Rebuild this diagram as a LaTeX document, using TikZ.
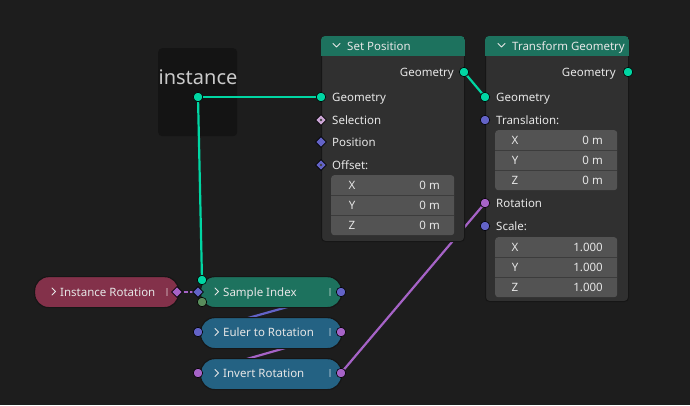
\documentclass[tikz,border=0pt]{standalone}
\usepackage{fontspec}
\setmainfont{Noto Sans}
\usepackage{xcolor}
\usepackage{tikz}
\usetikzlibrary{positioning,shapes.geometric}
\definecolor{Canvas}{HTML}{1D1D1D}
\definecolor{FrameBg}{HTML}{141414}
\definecolor{Body}{HTML}{303030}
\definecolor{Edge}{HTML}{161616}
\definecolor{Field}{HTML}{535353}
\definecolor{FieldLine}{HTML}{3C3C3C}
\definecolor{GeoHead}{HTML}{1D725E}
\definecolor{ConvHead}{HTML}{246283}
\definecolor{InHead}{HTML}{83314A}
\definecolor{GeoSock}{HTML}{00D6A3}
\definecolor{VecSock}{HTML}{6363C7}
\definecolor{RotSock}{HTML}{A663C7}
\definecolor{BoolSock}{HTML}{CCA6D6}
\definecolor{IntSock}{HTML}{598C5C}
\definecolor{Label}{HTML}{E6E6E6}
\pgfdeclarelayer{bg}
\pgfdeclarelayer{wires}
\pgfsetlayers{bg,wires,main}
\newcommand{\headbar}[2]{%
  \begin{scope}
    \clip[rounded corners=4pt] (#1.north west) rectangle (#1.south east);
    \fill[#2] (#1.north west) rectangle ([yshift=-20pt]#1.north east);
  \end{scope}}

\begin{document}
\begin{tikzpicture}[
  x=1pt,y=-1pt,
  body/.style={draw=Edge,fill=Body,rounded corners=4pt,line width=1pt,anchor=north west,inner sep=0pt},
  pill/.style={draw=Edge,line width=1.2pt,rounded corners=14pt,minimum height=31pt,anchor=north west,inner sep=0pt},
  vbox/.style={fill=Field,rounded corners=3pt,anchor=north west,inner sep=0pt},
  lbl/.style={text=Label,font=\fontsize{11.5}{13}\selectfont,inner sep=0pt,text height=8.3pt,text depth=0pt},
  sock/.style={circle,draw=black,line width=0.6pt,minimum size=9.5pt,inner sep=0pt},
  dia/.style={diamond,draw=black,line width=0.6pt,minimum size=11pt,inner sep=0pt},
  pip/.style={circle,fill=black!75,minimum size=2.6pt,inner sep=0pt},
  chev/.style={draw=Label,line width=0.9pt,line cap=round,line join=round},
  handle/.style={fill=white,fill opacity=0.28,minimum width=2.2pt,minimum height=8pt,inner sep=0pt},
  sep/.style={FieldLine,line width=1pt},
  wire/.style={line width=2.2pt}]
\useasboundingbox (0,0) rectangle (690,405);
\begin{pgfonlayer}{bg}
\fill[Canvas] (0,0) rectangle (690,405);
\node[fill=FrameBg,rounded corners=4pt,minimum width=79pt,minimum height=88pt,anchor=north west,inner sep=0pt] (frame) at (158,48) {};
\end{pgfonlayer}
\node[text=Label!88!black,font=\fontsize{20}{24}\selectfont,inner sep=0pt] (frameT) at (198,77) {instance};
\node[sock,fill=GeoSock] (reroute) at (198,97) {};

% Set Position
\node[body,minimum width=143pt,minimum height=205pt] (setpos) at (321,36) {};
\headbar{setpos}{GeoHead}
\draw[chev] (333,43.5) -- (336.5,47) -- (340,43.5);
\node[lbl,anchor=west] (setposT) at (347,46) {Set Position};
\node[lbl,anchor=east] (spGeoOutL) at (454,72) {Geometry};
\node[sock,fill=GeoSock] (spGeoOut) at (464,72) {};
\node[lbl,anchor=west] (spGeoInL) at (332,97) {Geometry};
\node[sock,fill=GeoSock] (spGeoIn) at (321,97) {};
\node[lbl,anchor=west] (spSelL) at (332,120) {Selection};
\node[dia,fill=BoolSock] (spSel) at (321,120) {};
\node[pip] at (spSel) {};
\node[lbl,anchor=west] (spPosL) at (332,142) {Position};
\node[dia,fill=VecSock] (spPos) at (321,142) {};
\node[lbl,anchor=west] (spOffL) at (332,165) {Offset:};
\node[dia,fill=VecSock] (spOffS) at (321,165) {};
\node[pip] at (spOffS) {};
\node[vbox,minimum width=123pt,minimum height=60pt] (spOff) at (331,175) {};
\foreach \s in {20,40} \draw[sep] ([yshift=-\s pt]spOff.north west) -- ([yshift=-\s pt]spOff.north east);
\foreach \c [count=\i] in {X,Y,Z} {
  \node[lbl] (spOff\c) at (352,165+20*\i) {\c};
  \node[lbl,anchor=east] (spOffV\c) at (440,165+20*\i) {0 m};
}

% Transform Geometry
\node[body,minimum width=143pt,minimum height=265pt] (transform) at (485,36) {};
\headbar{transform}{GeoHead}
\draw[chev] (498,43.5) -- (501.5,47) -- (505,43.5);
\node[lbl,anchor=west] (transformT) at (512,46) {Transform Geometry};
\node[lbl,anchor=east] (tgGeoOutL) at (616,72) {Geometry};
\node[sock,fill=GeoSock] (tgGeoOut) at (628,72) {};
\node[lbl,anchor=west] (tgGeoInL) at (496,97) {Geometry};
\node[sock,fill=GeoSock] (tgGeoIn) at (485,97) {};
\node[lbl,anchor=west] (tgTransL) at (496,120) {Translation:};
\node[sock,fill=VecSock] (tgTrans) at (485,120) {};
\node[vbox,minimum width=122pt,minimum height=60pt] (tgT) at (495,130) {};
\node[lbl,anchor=west] (tgRotL) at (496,203) {Rotation};
\node[sock,fill=RotSock] (tgRot) at (485,203) {};
\node[lbl,anchor=west] (tgScaleL) at (496,226) {Scale:};
\node[sock,fill=VecSock] (tgScale) at (485,226) {};
\node[vbox,minimum width=122pt,minimum height=60pt] (tgS) at (495,237) {};
\foreach \s in {20,40} {
  \draw[sep] ([yshift=-\s pt]tgT.north west) -- ([yshift=-\s pt]tgT.north east);
  \draw[sep] ([yshift=-\s pt]tgS.north west) -- ([yshift=-\s pt]tgS.north east);
}
\foreach \c [count=\i] in {X,Y,Z} {
  \node[lbl] (tgT\c) at (515,120+20*\i) {\c};
  \node[lbl,anchor=east] (tgTV\c) at (603,120+20*\i) {0 m};
  \node[lbl] (tgS\c) at (515,227+20*\i) {\c};
  \node[lbl,anchor=east] (tgSV\c) at (603,227+20*\i) {1.000};
}

% collapsed nodes
\node[pill,fill=InHead,minimum width=144pt] (instrot) at (34,276) {};
\draw[chev] (52,288) -- (55.5,291.5) -- (52,295);
\node[lbl,anchor=west] (instrotT) at (60,292) {Instance Rotation};
\node[handle] (instrotH) at (167,292) {};
\node[dia,fill=RotSock] (instOut) at (177,292) {};

\node[pill,fill=GeoHead,minimum width=141pt] (sample) at (200,276) {};
\draw[chev] (215,288) -- (218.5,291.5) -- (215,295);
\node[lbl,anchor=west] (sampleT) at (223,292) {Sample Index};
\node[handle] (sampleH) at (330,292) {};
\node[sock,fill=GeoSock] (siGeo) at (202,280) {};
\node[sock,fill=IntSock] (siIdx) at (202,302) {};
\node[dia,fill=VecSock] (siVal) at (198,292) {};
\node[sock,fill=VecSock] (siOut) at (341,292) {};

\node[pill,fill=ConvHead,minimum width=141pt] (euler) at (200,317) {};
\draw[chev] (215,328.5) -- (218.5,332) -- (215,335.5);
\node[lbl,anchor=west] (eulerT) at (223,332) {Euler to Rotation};
\node[handle] (eulerH) at (330,332) {};
\node[sock,fill=VecSock] (erIn) at (198,332) {};
\node[sock,fill=RotSock] (erOut) at (341,332) {};

\node[pill,fill=ConvHead,minimum width=141pt] (invert) at (200,358) {};
\draw[chev] (215,369.5) -- (218.5,373) -- (215,376.5);
\node[lbl,anchor=west] (invertT) at (223,373) {Invert Rotation};
\node[handle] (invertH) at (330,373) {};
\node[sock,fill=RotSock] (irIn) at (198,373) {};
\node[sock,fill=RotSock] (irOut) at (341,373) {};

\begin{pgfonlayer}{wires}
\draw[wire,GeoSock] (reroute.center) -- (spGeoIn.center);
\draw[wire,GeoSock] (reroute.center) -- (siGeo.center);
\draw[wire,GeoSock] (spGeoOut.center) -- (tgGeoIn.center);
\draw[wire,RotSock] (irOut.center) -- (tgRot.center);
\draw[wire,VecSock] (siOut.center) -- (erIn.center);
\draw[wire,RotSock] (erOut.center) -- (irIn.center);
\draw[wire,RotSock,line width=1.6pt,dash pattern=on 4pt off 2.5pt] (instOut.center) -- (siVal.center);
\end{pgfonlayer}
\end{tikzpicture}
\end{document}
